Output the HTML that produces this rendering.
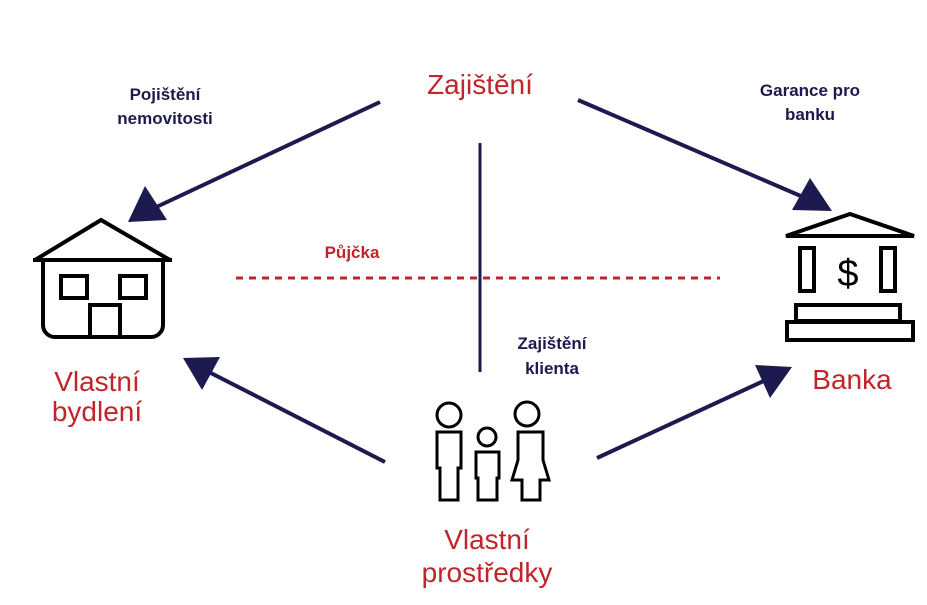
<!DOCTYPE html>
<html><head><style>body{margin:0;background:#fff}</style></head><body>
<svg width="927" height="600" viewBox="0 0 927 600" xmlns="http://www.w3.org/2000/svg" font-family="Liberation Sans, sans-serif">
<rect width="927" height="600" fill="#fff"/>
<g stroke="#1c1a4e" stroke-width="4" fill="#1c1a4e">
<line x1="380" y1="102" x2="150" y2="210"/><polygon points="128,222 145,186 167,220" stroke="none"/>
<line x1="578" y1="100" x2="810" y2="200"/><polygon points="832,211 792,210 810,178" stroke="none"/>
<line x1="385" y1="462" x2="205" y2="370"/><polygon points="183,358 220,357 202,390" stroke="none"/>
<line x1="597" y1="458" x2="770" y2="378"/><polygon points="792,367 770,398 755,365" stroke="none"/>
<line x1="480" y1="143" x2="480" y2="372" stroke-width="3"/>
</g>
<line x1="236" y1="278" x2="720" y2="278" stroke="#c0252b" stroke-width="3" stroke-dasharray="7,6"/>
<g fill="none" stroke="#000" stroke-width="4">
<polyline points="35,260 101,220 170,260"/><line x1="33" y1="260" x2="172" y2="260"/>
<path d="M43,260 V325 a12,12 0 0 0 12,12 H151 a12,12 0 0 0 12,-12 V260"/>
<rect x="61" y="276" width="26" height="22"/><rect x="120" y="276" width="26" height="22"/>
<polyline points="90,337 90,305 120,305 120,337"/>
<polygon points="786,236 850,214 914,236"/>
<rect x="800" y="248" width="14" height="43"/><rect x="881" y="248" width="14" height="43"/>
<rect x="796" y="305" width="104" height="16"/><rect x="787" y="322" width="126" height="18"/>
<g stroke-width="3">
<circle cx="449" cy="415" r="12"/><path d="M437,432 H461 V468 H458 V500 H440 V468 H437 Z"/>
<circle cx="487" cy="437" r="9"/><path d="M476,452 H499 V478 H497 V500 H478 V478 H476 Z"/>
<circle cx="527" cy="414" r="12"/><path d="M518,432 H543 V460 L549,480 H540 V500 H522 V480 H512 L518,460 Z"/>
</g>
</g>
<text x="848" y="286" font-size="38" text-anchor="middle" fill="#000">$</text>
<g text-anchor="middle" fill="#c0252b" font-size="28">
<text x="480" y="94">Zajištění</text>
<text x="97" y="391">Vlastní</text><text x="97" y="421">bydlení</text>
<text x="852" y="389">Banka</text>
<text x="487" y="549">Vlastní</text><text x="487" y="582">prostředky</text>
<text x="352" y="258" font-size="17" font-weight="bold">Půjčka</text>
</g>
<g text-anchor="middle" fill="#1c1a4e" font-size="17" font-weight="bold">
<text x="165" y="100">Pojištění</text><text x="165" y="124">nemovitosti</text>
<text x="810" y="96">Garance pro</text><text x="810" y="120">banku</text>
<text x="552" y="349">Zajištění</text><text x="552" y="374">klienta</text>
</g>
</svg>
</body></html>
